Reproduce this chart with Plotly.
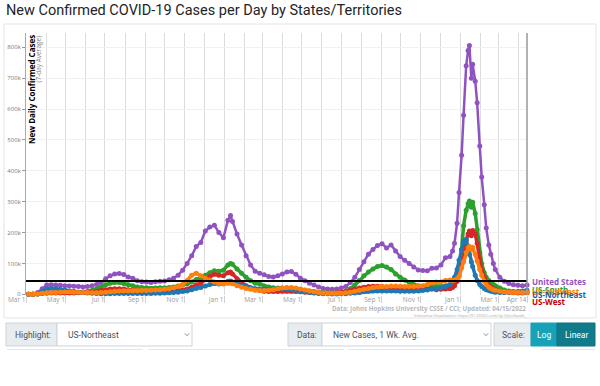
import plotly.graph_objects as go

# ---------------- data (values in thousands of cases, 7-day average) ----------------
dates = [
    "2020-03-05", "2020-03-12", "2020-03-19", "2020-03-26",
    "2020-04-02", "2020-04-09", "2020-04-16", "2020-04-23", "2020-04-30",
    "2020-05-07", "2020-05-14", "2020-05-21", "2020-05-28",
    "2020-06-04", "2020-06-11", "2020-06-18", "2020-06-25",
    "2020-07-02", "2020-07-09", "2020-07-16", "2020-07-23", "2020-07-30",
    "2020-08-06", "2020-08-13", "2020-08-20", "2020-08-27",
    "2020-09-03", "2020-09-10", "2020-09-17", "2020-09-24",
    "2020-10-01", "2020-10-08", "2020-10-15", "2020-10-22", "2020-10-29",
    "2020-11-05", "2020-11-12", "2020-11-19", "2020-11-26",
    "2020-12-03", "2020-12-10", "2020-12-17", "2020-12-24", "2020-12-31",
    "2021-01-07", "2021-01-11", "2021-01-14", "2021-01-21", "2021-01-28",
    "2021-02-04", "2021-02-11", "2021-02-18", "2021-02-25",
    "2021-03-04", "2021-03-11", "2021-03-18", "2021-03-25",
    "2021-04-01", "2021-04-08", "2021-04-15", "2021-04-22", "2021-04-29",
    "2021-05-06", "2021-05-13", "2021-05-20", "2021-05-27",
    "2021-06-03", "2021-06-10", "2021-06-17", "2021-06-24",
    "2021-07-01", "2021-07-08", "2021-07-15", "2021-07-22", "2021-07-29",
    "2021-08-05", "2021-08-12", "2021-08-19", "2021-08-26",
    "2021-09-02", "2021-09-09", "2021-09-16", "2021-09-23", "2021-09-30",
    "2021-10-07", "2021-10-14", "2021-10-21", "2021-10-28",
    "2021-11-04", "2021-11-11", "2021-11-18", "2021-11-25",
    "2021-12-02", "2021-12-09", "2021-12-16", "2021-12-20", "2021-12-23", "2021-12-27", "2021-12-30",
    "2022-01-03", "2022-01-06", "2022-01-10", "2022-01-13", "2022-01-15", "2022-01-18", "2022-01-20",
    "2022-01-24", "2022-01-27", "2022-01-31",
    "2022-02-03", "2022-02-07", "2022-02-10", "2022-02-14", "2022-02-17", "2022-02-21", "2022-02-24",
    "2022-03-03", "2022-03-10", "2022-03-17", "2022-03-24", "2022-03-31",
    "2022-04-07", "2022-04-14",
]

united_states = [
    0.1, 1, 6, 18,
    30, 31, 30, 29, 28,
    27, 26, 25, 24,
    25, 28, 32, 38,
    50, 60, 66, 67, 64,
    56, 52, 44, 41,
    40, 38, 41, 42,
    43, 47, 52, 62, 78,
    100, 125, 155, 168,
    205, 218, 224, 200, 183,
    240, 255, 236, 195, 160,
    125, 95, 75, 68,
    63, 58, 56, 60,
    66, 72, 74, 65, 52,
    44, 36, 30, 24,
    19, 17, 16, 17,
    20, 25, 38, 55, 80,
    105, 130, 145, 158,
    164, 150, 160, 140, 122,
    110, 100, 88, 79,
    77, 76, 84, 85,
    95, 118, 122, 140, 165, 230, 330,
    450, 580, 740, 790, 806, 700, 745,
    690, 620, 480,
    380, 290, 215, 160, 130, 100, 80,
    55, 42, 35, 31, 29,
    28, 30,
]

us_south = [
    0, 0.2, 1, 3,
    5, 6, 6, 6, 6,
    6, 6.5, 7, 7.5,
    9, 12, 17, 24,
    31, 36, 38, 38, 35,
    31, 28, 24, 22,
    21, 19, 20, 21,
    21, 22, 24, 27, 30,
    34, 40, 48, 52,
    62, 70, 76, 75, 78,
    95, 100, 97, 82, 68,
    55, 44, 36, 33,
    27, 24, 21, 20,
    20, 20, 19, 17, 15,
    13, 11, 9, 7,
    5, 5, 5, 5,
    6, 10, 18, 30, 45,
    60, 72, 82, 90,
    93, 88, 80, 66, 55,
    46, 38, 32, 28,
    25, 24, 25, 26,
    25, 28, 30, 34, 40, 60, 82,
    145, 222, 272, 293, 302, 282, 298,
    262, 210, 135,
    100, 70, 55, 45, 38, 32, 28,
    20, 14, 11, 9, 8,
    7, 7,
]

us_west = [
    0.05, 0.3, 1, 2.5,
    3.5, 4, 4, 4, 4,
    4.5, 4.5, 5, 5.5,
    6, 7, 9, 12,
    15, 17, 18, 18, 17,
    15, 13, 11, 9,
    8, 7, 7, 8,
    8, 9, 10, 12, 14,
    17, 23, 31, 36,
    48, 58, 65, 62, 60,
    70, 72, 66, 50, 38,
    28, 20, 15, 12,
    10, 9, 9, 9,
    10, 10, 10, 9, 8,
    7, 6, 5, 4.5,
    4, 4, 4, 4.5,
    5.5, 8, 12, 16, 20,
    23, 25, 26, 26,
    25, 23, 23, 20, 18,
    17, 16, 16, 16,
    16, 17, 17, 15,
    16, 17, 18, 22, 28, 42, 60,
    95, 130, 175, 195, 205, 190, 207,
    195, 165, 110,
    80, 55, 40, 30, 24, 18, 15,
    10, 7, 5.5, 5, 4.5,
    4.5, 5,
]

us_northeast = [
    0, 0.2, 2, 10,
    17, 19, 18, 16, 14,
    11, 9, 7, 5.5,
    4, 3, 2.5, 2,
    2, 2, 2.2, 2.5, 2.5,
    2.5, 2.5, 2.5, 2.5,
    2.5, 2.8, 3, 3.5,
    4, 5, 6, 7, 9,
    11, 15, 19, 22,
    27, 32, 35, 33, 35,
    42, 43, 40, 34, 29,
    25, 21, 18, 17,
    16, 16, 17, 18,
    19, 18, 16, 13, 10,
    8, 6, 4, 2.5,
    2, 1.5, 1.2, 1.2,
    1.5, 2, 3, 4.5, 6,
    8, 9.5, 10.5, 11,
    11, 10.5, 11, 11, 10,
    10, 10, 10, 10.5,
    12, 14, 17, 18,
    20, 25, 32, 42, 55, 80, 110,
    145, 170, 178, 150, 130, 105, 90,
    62, 45, 32,
    25, 19, 15, 12, 10, 8, 7,
    6, 6, 6.5, 7.5, 9,
    11, 13,
]

us_midwest = [
    0, 0.1, 0.8, 3,
    5, 6, 6, 7, 7.5,
    7.5, 7, 6.5, 6,
    5.5, 5, 5, 6,
    7, 8.5, 10, 11, 11.5,
    11.5, 11.5, 11.5, 12,
    12.5, 13, 14, 15,
    16, 18, 21, 25, 32,
    45, 62, 68, 60,
    52, 46, 40, 35, 33,
    36, 37, 34, 28, 23,
    19, 16, 13, 12,
    12, 13, 15, 18,
    20, 22, 22, 20, 17,
    14, 11, 8, 6,
    4, 3, 3, 3,
    3.5, 5, 7, 10, 13,
    16, 19, 22, 24,
    25, 25, 27, 27, 26,
    25, 25, 25, 26,
    28, 32, 38, 40,
    40, 45, 46, 45, 46, 50, 58,
    85, 105, 135, 150, 155, 145, 152,
    130, 108, 80,
    62, 42, 32, 24, 19, 15, 13,
    10, 8, 7, 6, 6,
    6, 7,
]

threshold_k = 43  # black reference line

series_names = ["United States", "US-South", "US-West", "US-Northeast", "US-Midwest"]
series_values = [united_states, us_south, us_west, us_northeast, us_midwest]
series_colors = ["#9052c0", "#2ca02c", "#d62728", "#1f77b4", "#ff7f0e"]

y_tick_vals_k = [0, 100, 200, 300, 400, 500, 600, 700, 800]
x_tick_vals = ["2020-03-01", "2020-05-01", "2020-07-01", "2020-09-01", "2020-11-01",
               "2021-01-01", "2021-03-01", "2021-05-01", "2021-07-01", "2021-09-01",
               "2021-11-01", "2022-01-01", "2022-03-01", "2022-04-14"]
x_tick_text = ["Mar 1", "May 1", "Jul 1", "Sep 1", "Nov 1", "Jan 1", "Mar 1", "May 1",
               "Jul 1", "Sep 1", "Nov 1", "Jan 1", "Mar 1", "Apr 14"]

for v in series_values:
    assert len(v) == len(dates), len(v)

# ---------------- layout geometry (pixels) ----------------
W, H = 600, 386
L, R, T, B = 26, 527, 33, 295


def fx(px):
    return (px - L) / (R - L)


def fy(py):
    return (B - py) / (B - T)


fig = go.Figure()

for name, vals, col in zip(series_names, series_values, series_colors):
    lw = 2.5 if name == "United States" else 3.5
    fig.add_trace(go.Scatter(
        x=dates, y=[v * 1000 for v in vals], name=name, mode="lines+markers",
        line=dict(color=col, width=lw), marker=dict(color=col, size=5),
        showlegend=False, cliponaxis=False,
    ))

# black reference line
fig.add_shape(type="line", xref="paper", yref="y", x0=0, x1=1,
              y0=threshold_k * 1000, y1=threshold_k * 1000,
              line=dict(color="black", width=2), layer="above")
# right edge line
fig.add_shape(type="line", xref="paper", yref="paper", x0=1, x1=1, y0=0, y1=1,
              line=dict(color="#999", width=1.5), layer="above")

# panel border
fig.add_shape(type="rect", xref="paper", yref="paper", x0=fx(4), x1=fx(596),
              y0=fy(318), y1=fy(24), line=dict(color="#e3e3e3", width=1),
              fillcolor="rgba(0,0,0,0)", layer="below")

annotations = []
# title
annotations.append(dict(xref="paper", yref="paper", x=fx(4), y=fy(11), xanchor="left",
                        yanchor="middle", showarrow=False,
                        text="New Confirmed COVID-19 Cases per Day by States/Territories",
                        font=dict(family="Roboto", size=14.5, color="#212529")))
# y-axis titles inside plot
annotations.append(dict(xref="paper", yref="paper", x=fx(31), y=fy(33.5), xanchor="center",
                        yanchor="top", textangle=-90, showarrow=False,
                        text="<b>New Daily Confirmed Cases</b>",
                        font=dict(family="Open Sans", size=8, color="#000")))
annotations.append(dict(xref="paper", yref="paper", x=fx(38.5), y=fy(33.5), xanchor="center",
                        yanchor="top", textangle=-90, showarrow=False,
                        text="(7-day Average)",
                        font=dict(family="Open Sans", size=6.5, color="#888")))
# end labels
label_order = ["United States", "US-South", "US-Midwest", "US-Northeast", "US-West"]
label_py = [281.5, 289, 291.5, 294.5, 301.5]
for nm, py in zip(label_order, label_py):
    col = series_colors[series_names.index(nm)]
    if nm == "US-West":
        col = "#c00000"
    if nm == "US-Northeast":
        col = "#1a63a8"
    annotations.append(dict(xref="x", yref="paper", x=dates[-1], y=fy(py), xshift=3,
                            xanchor="left", yanchor="middle", showarrow=False,
                            text="<b>%s</b>" % nm,
                            font=dict(family="Open Sans", size=8, color=col)))
# source
annotations.append(dict(xref="paper", yref="paper", x=fx(528), y=fy(308.5), xanchor="right",
                        yanchor="middle", showarrow=False,
                        text="<b>Data: Johns Hopkins University CSSE / CCI; Updated: 04/15/2022</b>",
                        font=dict(family="Open Sans", size=6.2, color="#b8b8b8")))
annotations.append(dict(xref="paper", yref="paper", x=fx(528), y=fy(315), xanchor="right",
                        yanchor="middle", showarrow=False,
                        text="Interactive Visualization: https://91-DIVOC.com/ by @profwade_",
                        font=dict(family="Open Sans", size=3.8, color="#a8a8a8")))

# ---------------- bottom controls ----------------
cy0, cy1 = 323, 346


def rect(x0, x1, fill, line="#ced4da", y0=cy0, y1=cy1):
    fig.add_shape(type="rect", xref="paper", yref="paper", x0=fx(x0), x1=fx(x1),
                  y0=fy(y1), y1=fy(y0), fillcolor=fill, line=dict(color=line, width=1),
                  layer="above")


def label(px, text, color="#495057", anchor="left", size=8.5, bold=False):
    t = "<b>%s</b>" % text if bold else text
    annotations.append(dict(xref="paper", yref="paper", x=fx(px), y=fy((cy0 + cy1) / 2),
                            xanchor=anchor, yanchor="middle", showarrow=False, text=t,
                            font=dict(family="Roboto", size=size, color=color)))


def chevron(px):
    cy = (cy0 + cy1) / 2
    fig.add_shape(type="path", xref="paper", yref="paper",
                  path="M %f %f L %f %f L %f %f" % (fx(px - 2.2), fy(cy - 1.2), fx(px), fy(cy + 1.2),
                                                     fx(px + 2.2), fy(cy - 1.2)),
                  line=dict(color="#6c757d", width=0.8), layer="above")


rect(6, 57, "#e9ecef")
rect(57, 192, "#ffffff")
label(13, "Highlight:")
label(66, "US-Northeast")
chevron(187)

rect(288, 322, "#e9ecef")
rect(322, 491, "#ffffff")
label(294.5, "Data:")
label(331, "New Cases, 1 Wk. Avg.")
chevron(486)

rect(494, 531, "#e9ecef")
label(500, "Scale:")
rect(531, 557, "#17a2b8", line="#17a2b8")
label(544, "Log", color="#ffffff", anchor="center")
rect(557, 595, "#117a8b", line="#10707f")
label(576, "Linear", color="#ffffff", anchor="center")

# faint tops of next row
for a, b in [(7, 143), (148, 344), (348, 513), (542, 595)]:
    fig.add_shape(type="line", xref="paper", yref="paper", x0=fx(a), x1=fx(b),
                  y0=fy(349.5), y1=fy(349.5), line=dict(color="#e6e6e6", width=1))

fig.update_layout(
    width=W, height=H,
    margin=dict(l=L, r=W - R, t=T, b=H - B, autoexpand=False),
    paper_bgcolor="white", plot_bgcolor="white",
    annotations=annotations,
    xaxis=dict(
        type="date", range=["2020-03-01", "2022-04-14"], automargin=False,
        tickvals=x_tick_vals, ticktext=x_tick_text,
        ticklabelposition="outside left",
        ticks="outside", ticklen=7, tickcolor="#d0d0d0",
        ticklabelstandoff=-2,
        tickfont=dict(family="Open Sans", size=6.5, color="#9a9a9a"),
        showgrid=True, gridcolor="#dcdcdc", gridwidth=1,
        minor=dict(dtick="M1", tick0="2020-03-01", showgrid=True, gridcolor="#dcdcdc", gridwidth=1),
        showline=False, zeroline=False, fixedrange=True,
    ),
    yaxis=dict(
        range=[-2300, 846300], automargin=False,
        tickvals=[v * 1000 for v in y_tick_vals_k], tickformat="~s",
        ticks="outside", ticklen=3, tickcolor="#999",
        tickfont=dict(family="Open Sans", size=6, color="#777"),
        showgrid=True, gridcolor="#f1f1f4", gridwidth=1,
        showline=True, linecolor="#aaaaaa", linewidth=1,
        zeroline=False,
    ),
)

fig.write_html("out.html", config={"staticPlot": True, "displayModeBar": False},
               post_script="document.body.style.margin='0';document.body.style.overflow='hidden';")
